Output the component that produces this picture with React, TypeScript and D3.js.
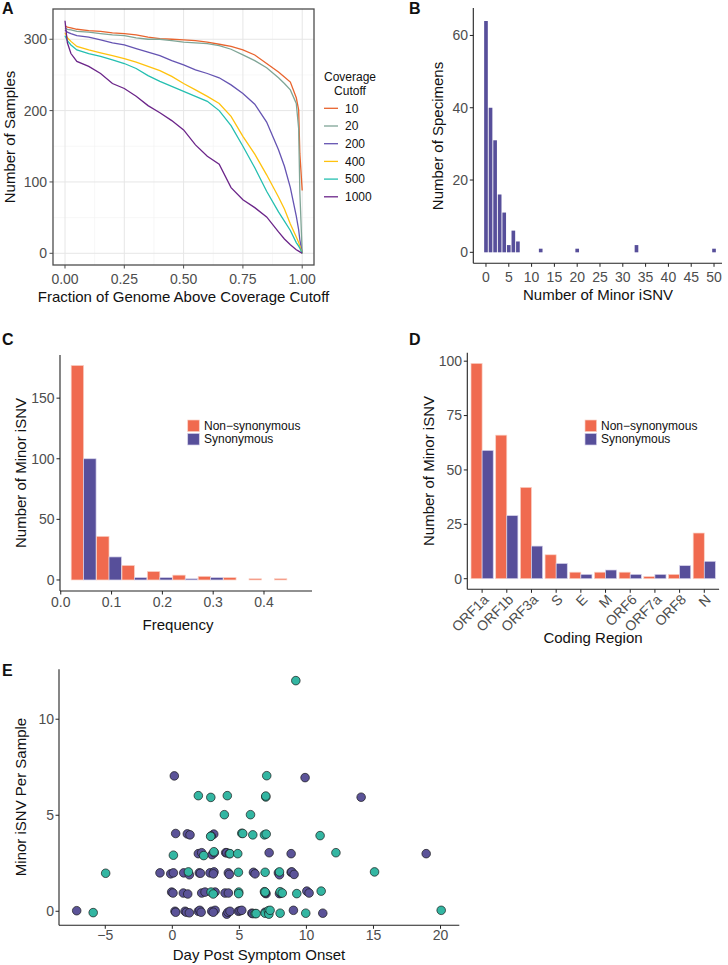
import React from 'react';
import * as d3 from 'd3';

const FONT = "'Liberation Sans', Arial, Helvetica, sans-serif";
const TICK_COLOR = '#4D4D4D';

// ---------- Panel A data ----------
const coverageFractions = [0, 0.01, 0.025, 0.05, 0.1, 0.15, 0.2, 0.25, 0.3, 0.35, 0.4, 0.45, 0.5, 0.55, 0.6, 0.65, 0.7, 0.75, 0.8, 0.85, 0.9, 0.925, 0.95, 0.975, 0.985, 0.99, 1.0];
const cutoffLabels = ['10', '20', '200', '400', '500', '1000'];
const samplesCut10 = [319, 317, 316, 314, 312, 311, 309, 308, 306, 303, 301, 300, 299, 298, 296, 293, 290, 285, 278, 266, 254, 247, 240, 218, 201, 140, 88];
const samplesCut20 = [316, 314, 313, 311, 310, 308, 306, 305, 302, 300, 300, 298, 296, 295, 294, 291, 286, 278, 270, 260, 246, 238, 229, 210, 175, 86, 0];
const samplesCut200 = [313, 310, 308, 305, 303, 299, 295, 292, 287, 282, 277, 270, 264, 257, 252, 246, 236, 224, 209, 184, 145, 122, 92, 52, 33, 19, 0];
const samplesCut400 = [309, 302, 297, 290, 285, 281, 277, 273, 268, 262, 256, 248, 238, 229, 220, 210, 192, 164, 139, 110, 79, 62, 41, 23, 15, 10, 0];
const samplesCut500 = [305, 298, 292, 285, 280, 276, 271, 266, 259, 249, 241, 234, 227, 220, 213, 200, 179, 150, 120, 87, 58, 45, 32, 15, 10, 7, 0];
const samplesCut1000 = [326, 295, 280, 269, 262, 252, 238, 231, 220, 207, 197, 186, 173, 152, 136, 125, 92, 75, 64, 51, 30, 20, 12, 5, 3, 2, 0];
const cutoffColors = ['#E8642E', '#7FA596', '#6554B2', '#FFC20E', '#25BFB0', '#6B2589'];
const aXTicks = [0, 0.25, 0.5, 0.75, 1.0];
const aYTicks = [0, 100, 200, 300];

// ---------- Panel B data ----------
const minorIsnvCounts = [0, 1, 2, 3, 4, 5, 6, 7, 12, 20, 33, 50];
const specimenCounts = [64, 40, 31, 16, 11, 2, 6, 3, 1, 1, 2, 1];
const bXTicks = [0, 5, 10, 15, 20, 25, 30, 35, 40, 45, 50];
const bYTicks = [0, 20, 40, 60];

// ---------- Panel C data ----------
const freqBinCenters = [0.045, 0.095, 0.145, 0.195, 0.245, 0.295, 0.345, 0.395, 0.445];
const freqNonSyn = [177, 36, 12, 7, 4, 3, 2, 1, 1];
const freqSyn = [100, 19, 2, 2, 1, 2, 0, 0, 0];
const cXTicks = [0, 0.1, 0.2, 0.3, 0.4];
const cYTicks = [0, 50, 100, 150];

// ---------- Panel D data ----------
const codingRegions = ['ORF1a', 'ORF1b', 'ORF3a', 'S', 'E', 'M', 'ORF6', 'ORF7a', 'ORF8', 'N'];
const regionNonSyn = [99, 66, 42, 11, 3, 3, 3, 1, 2, 21];
const regionSyn = [59, 29, 15, 7, 2, 4, 2, 2, 6, 8];
const dYTicks = [0, 25, 50, 75, 100];

// ---------- Panel E data ----------
const purpleDays = [-7.13, 0.2, 0.25, 0.95, 1.05, 1.27, 1.94, 2.05, 2.15, 2.94, 3.19, 3.05, 4.06, 4.15, 4.3, 4.93, 5.05, 5.18, 5.93, 6.0, 6.92, 9.03, 11.22,
  -0.05, 0.05, 0.82, 1.15, 2.19, 2.44, 3.19, 3.93, 4.18, 6.99, 7.99, 8.1, 10.03, 10.2, 6.92,
  -0.92, -0.12, 0.08, 0.85, 1.27, 2.01, 2.1, 2.81, 3.11, 3.06, 4.18, 4.25, 6.05, 6.17, 7.91, 7.99, 8.86, 8.91, 9.08,
  1.94, 2.19, 2.96, 3.13, 3.98, 4.06, 4.25, 7.22, 8.86, 18.93,
  0.25, 1.12, 1.32, 3.09, 2.9,
  14.08, 0.15, 9.9];
const purpleCounts = [0.03, 0.0, -0.05, 0.0, -0.05, -0.08, 0.0, 0.05, -0.05, 0.0, 0.05, -0.05, -0.15, -0.05, 0.0, 0.0, 0.03, 0.05, -0.1, -0.12, -0.05, 0.05, -0.1,
  1.0, 0.95, 0.95, 0.9, 0.95, 1.0, 1.0, 0.95, 0.95, 0.92, 0.92, 0.95, 1.05, 0.95, 0.95,
  2.0, 1.95, 2.0, 2.0, 1.9, 2.0, 1.98, 2.0, 2.05, 1.95, 2.0, 1.92, 2.03, 1.95, 2.0, 1.9, 2.03, 2.05, 1.92,
  3.0, 3.05, 2.95, 3.05, 3.05, 3.05, 3.0, 3.05, 3.0, 3.0,
  4.05, 4.03, 3.98, 4.02, 3.92,
  5.94, 7.05, 6.96];
const tealDays = [-5.9, 6.17, 6.25, 6.92, 7.16, 7.2, 7.29, 8.04, 9.95, 20.05,
  2.89, 3.05, 4.95, 4.95, 6.87, 6.92, 8.04, 8.2, 9.28, 11.1,
  -4.97, 1.2, 4.93, 6.92, 7.99, 15.08,
  0.08, 2.34, 3.1, 4.3, 4.88, 12.2,
  2.86, 5.18, 5.25, 6.0, 6.87, 7.0, 11.02,
  3.88, 5.83,
  1.94, 2.87, 4.1, 6.97, 6.97,
  7.04, 9.21];
const tealCounts = [-0.07, -0.12, -0.12, -0.1, 0.03, -0.15, 0.05, -0.1, -0.1, 0.05,
  1.0, 0.9, 1.0, 0.92, 1.02, 1.0, 1.02, 0.95, 0.92, 1.05,
  1.98, 2.05, 2.03, 2.03, 2.05, 2.05,
  2.92, 2.9, 3.1, 3.0, 3.0, 3.05,
  3.9, 4.06, 4.05, 3.98, 3.98, 4.02, 3.94,
  5.03, 5.03,
  6.02, 5.93, 6.02, 5.95, 6.0,
  7.06, 12.01];
const eXTicks = [-5, 0, 5, 10, 15, 20];
const eYTicks = [0, 5, 10];

const ORANGE = '#F06A4F';
const BLUE = '#574F9A';
const ORANGE_EDGE = '#FAD2C6';
const BLUE_EDGE = '#D6D2EA';
const PURPLE_PT = '#5B5398';
const TEAL_PT = '#33B6A2';

function fmt2(v: number) {
  return v.toFixed(2);
}

export default function App() {
  // ----- A -----
  const aX = d3.scaleLinear().domain([-0.0506, 1.0497]).range([53, 314]);
  const aY = d3.scaleLinear().domain([-16.4, 342.4]).range([265, 9]);
  const aLine = d3
    .line<number>()
    .x((_, i) => aX(coverageFractions[i]))
    .y((d) => aY(d))
    .curve(d3.curveLinear);
  const aSeries = [samplesCut10, samplesCut20, samplesCut200, samplesCut400, samplesCut500, samplesCut1000];
  const aXMinor = [0.125, 0.375, 0.625, 0.875];
  const aYMinor = [50, 150, 250];

  // ----- B -----
  const bX = d3.scaleLinear().domain([-2.78, 51.75]).range([473.3, 722]);
  const bY = d3.scaleLinear().domain([-3.04, 67.6]).range([263.3, 8]);
  const bBarW = 0.8;

  // ----- C -----
  const cX = d3.scaleLinear().domain([-0.0015, 0.4945]).range([60, 312]);
  const cY = d3.scaleLinear().domain([-9.1, 185.6]).range([591, 355]);
  const cHalf = 0.0245;

  // ----- D -----
  const dX = d3.scaleBand<string>().domain(codingRegions).range([467.3, 719.1]).paddingInner(0).paddingOuter(0.1);
  const dY = d3.scaleLinear().domain([-4.87, 103.9]).range([589.3, 352.7]);
  const dStep = dX.step();
  const dBarW = dStep * 0.45;

  // ----- E -----
  const eX = d3.scaleLinear().domain([-8.45, 21.4]).range([59, 459.3]);
  const eY = d3.scaleLinear().domain([-0.73, 12.6]).range([925.3, 669.3]);

  const tickStyle = { fontFamily: FONT, fontSize: 14, fill: TICK_COLOR } as const;
  const titleStyle = { fontFamily: FONT, fontSize: 15, fill: '#111' } as const;
  const letterStyle = { fontFamily: FONT, fontSize: 16, fontWeight: 700, fill: '#111' } as const;
  const legendStyle = { fontFamily: FONT, fontSize: 12, fill: '#111' } as const;
  const axisColor = '#222';

  return (
    <svg width={728} height={965} style={{ position: 'absolute', left: 0, top: 0, background: '#fff' }}>
      <rect x={0} y={0} width={728} height={965} fill="#fff" />

      {/* ================= Panel A ================= */}
      <text x={2} y={14} {...letterStyle}>A</text>
      <rect x={53} y={9} width={261} height={256} fill="#fff" />
      {aXMinor.map((v) => (
        <line key={'axm' + v} x1={aX(v)} x2={aX(v)} y1={9} y2={265} stroke="#F2F2F2" strokeWidth={0.6} />
      ))}
      {aYMinor.map((v) => (
        <line key={'aym' + v} x1={53} x2={314} y1={aY(v)} y2={aY(v)} stroke="#F2F2F2" strokeWidth={0.6} />
      ))}
      {aXTicks.map((v) => (
        <line key={'axg' + v} x1={aX(v)} x2={aX(v)} y1={9} y2={265} stroke="#E6E6E6" strokeWidth={1} />
      ))}
      {aYTicks.map((v) => (
        <line key={'ayg' + v} x1={53} x2={314} y1={aY(v)} y2={aY(v)} stroke="#E6E6E6" strokeWidth={1} />
      ))}
      {aSeries.map((s, i) => (
        <path key={'as' + i} d={aLine(s) || ''} fill="none" stroke={cutoffColors[i]} strokeWidth={1.3} strokeLinejoin="miter" />
      ))}
      <rect x={53} y={9} width={261} height={256} fill="none" stroke="#4D4D4D" strokeWidth={1.3} />
      {aYTicks.map((v) => (
        <g key={'ayt' + v}>
          <line x1={49.5} x2={53} y1={aY(v)} y2={aY(v)} stroke="#4D4D4D" strokeWidth={1} />
          <text x={47} y={aY(v)} dy="0.35em" textAnchor="end" {...tickStyle}>{v}</text>
        </g>
      ))}
      {aXTicks.map((v) => (
        <g key={'axt' + v}>
          <line x1={aX(v)} x2={aX(v)} y1={265} y2={268.5} stroke="#4D4D4D" strokeWidth={1} />
          <text x={aX(v)} y={284} textAnchor="middle" {...tickStyle}>{fmt2(v)}</text>
        </g>
      ))}
      <text x={183.5} y={302} textAnchor="middle" {...titleStyle}>Fraction of Genome Above Coverage Cutoff</text>
      <text transform={`translate(15,137) rotate(-90)`} textAnchor="middle" {...titleStyle}>Number of Samples</text>
      {/* legend A */}
      <text x={350} y={81} textAnchor="middle" {...legendStyle}>Coverage</text>
      <text x={350} y={95} textAnchor="middle" {...legendStyle}>Cutoff</text>
      {cutoffLabels.map((lab, i) => {
        const yy = 108.3 + i * 17.7;
        return (
          <g key={'al' + lab}>
            <line x1={324} x2={338} y1={yy} y2={yy} stroke={cutoffColors[i]} strokeWidth={1.3} />
            <text x={345} y={yy} dy="0.35em" {...legendStyle}>{lab}</text>
          </g>
        );
      })}

      {/* ================= Panel B ================= */}
      <text x={409} y={14} {...letterStyle}>B</text>
      {minorIsnvCounts.map((c, i) => (
        <rect
          key={'bb' + c}
          x={bX(c - bBarW / 2)}
          y={bY(specimenCounts[i])}
          width={bX(c + bBarW / 2) - bX(c - bBarW / 2)}
          height={bY(0) - bY(specimenCounts[i])}
          fill={BLUE}
        />
      ))}
      <line x1={473.3} x2={473.3} y1={8} y2={263.3} stroke={axisColor} strokeWidth={1.1} />
      <line x1={473.3} x2={722} y1={263.3} y2={263.3} stroke={axisColor} strokeWidth={1.1} />
      {bYTicks.map((v) => (
        <g key={'byt' + v}>
          <line x1={469.8} x2={473.3} y1={bY(v)} y2={bY(v)} stroke={axisColor} strokeWidth={1} />
          <text x={468} y={bY(v)} dy="0.35em" textAnchor="end" {...tickStyle}>{v}</text>
        </g>
      ))}
      {bXTicks.map((v) => (
        <g key={'bxt' + v}>
          <line x1={bX(v)} x2={bX(v)} y1={263.3} y2={266.8} stroke={axisColor} strokeWidth={1} />
          <text x={bX(v)} y={282} textAnchor="middle" {...tickStyle}>{v}</text>
        </g>
      ))}
      <text x={598} y={300} textAnchor="middle" {...titleStyle}>Number of Minor iSNV</text>
      <text transform={`translate(443,136) rotate(-90)`} textAnchor="middle" {...titleStyle}>Number of Specimens</text>

      {/* ================= Panel C ================= */}
      <text x={2} y={345} {...letterStyle}>C</text>
      {freqBinCenters.map((c, i) => (
        <g key={'cb' + i}>
          <rect
            x={cX(c - cHalf)}
            y={cY(freqNonSyn[i])}
            width={cX(c) - cX(c - cHalf)}
            height={cY(0) - cY(freqNonSyn[i])}
            fill={ORANGE}
            stroke={ORANGE_EDGE}
            strokeWidth={0.7}
          />
          <rect
            x={cX(c)}
            y={cY(freqSyn[i])}
            width={cX(c + cHalf) - cX(c)}
            height={cY(0) - cY(freqSyn[i])}
            fill={BLUE}
            stroke={BLUE_EDGE}
            strokeWidth={0.7}
          />
        </g>
      ))}
      <line x1={60} x2={60} y1={355} y2={591} stroke={axisColor} strokeWidth={1.1} />
      <line x1={60} x2={312} y1={591} y2={591} stroke={axisColor} strokeWidth={1.1} />
      {cYTicks.map((v) => (
        <g key={'cyt' + v}>
          <line x1={56.5} x2={60} y1={cY(v)} y2={cY(v)} stroke={axisColor} strokeWidth={1} />
          <text x={54.5} y={cY(v)} dy="0.35em" textAnchor="end" {...tickStyle}>{v}</text>
        </g>
      ))}
      {cXTicks.map((v) => (
        <g key={'cxt' + v}>
          <line x1={cX(v)} x2={cX(v)} y1={591} y2={594.5} stroke={axisColor} strokeWidth={1} />
          <text x={cX(v)} y={607} textAnchor="middle" {...tickStyle}>{v.toFixed(1)}</text>
        </g>
      ))}
      <text x={178} y={630} textAnchor="middle" {...titleStyle}>Frequency</text>
      <text transform={`translate(26,473) rotate(-90)`} textAnchor="middle" {...titleStyle}>Number of Minor iSNV</text>
      {/* legend C */}
      <rect x={187.7} y={420} width={11.6} height={11.6} fill={ORANGE} stroke={ORANGE_EDGE} strokeWidth={0.7} />
      <rect x={187.7} y={433.4} width={11.6} height={11.6} fill={BLUE} stroke={BLUE_EDGE} strokeWidth={0.7} />
      <text x={204} y={425.8} dy="0.35em" {...legendStyle}>Non−synonymous</text>
      <text x={204} y={439.2} dy="0.35em" {...legendStyle}>Synonymous</text>

      {/* ================= Panel D ================= */}
      <text x={409} y={345} {...letterStyle}>D</text>
      {codingRegions.map((r, i) => {
        const cx = (dX(r) as number) + dStep / 2;
        return (
          <g key={'db' + r}>
            <rect
              x={cx - dBarW}
              y={dY(regionNonSyn[i])}
              width={dBarW}
              height={dY(0) - dY(regionNonSyn[i])}
              fill={ORANGE}
              stroke={ORANGE_EDGE}
              strokeWidth={0.7}
            />
            <rect
              x={cx}
              y={dY(regionSyn[i])}
              width={dBarW}
              height={dY(0) - dY(regionSyn[i])}
              fill={BLUE}
              stroke={BLUE_EDGE}
              strokeWidth={0.7}
            />
          </g>
        );
      })}
      <line x1={467.3} x2={467.3} y1={352.7} y2={589.3} stroke={axisColor} strokeWidth={1.1} />
      <line x1={467.3} x2={719.1} y1={589.3} y2={589.3} stroke={axisColor} strokeWidth={1.1} />
      {dYTicks.map((v) => (
        <g key={'dyt' + v}>
          <line x1={463.8} x2={467.3} y1={dY(v)} y2={dY(v)} stroke={axisColor} strokeWidth={1} />
          <text x={462} y={dY(v)} dy="0.35em" textAnchor="end" {...tickStyle}>{v}</text>
        </g>
      ))}
      {codingRegions.map((r) => {
        const cx = (dX(r) as number) + dStep / 2;
        return (
          <g key={'dxt' + r}>
            <line x1={cx} x2={cx} y1={589.3} y2={592.8} stroke={axisColor} strokeWidth={1} />
            <text transform={`translate(${cx + 4},${597}) rotate(-45)`} textAnchor="end" dy="0.35em" {...tickStyle}>{r}</text>
          </g>
        );
      })}
      <text x={593} y={643} textAnchor="middle" {...titleStyle}>Coding Region</text>
      <text transform={`translate(434,471) rotate(-90)`} textAnchor="middle" {...titleStyle}>Number of Minor iSNV</text>
      {/* legend D */}
      <rect x={585} y={420} width={11.6} height={11.6} fill={ORANGE} stroke={ORANGE_EDGE} strokeWidth={0.7} />
      <rect x={585} y={433.4} width={11.6} height={11.6} fill={BLUE} stroke={BLUE_EDGE} strokeWidth={0.7} />
      <text x={601} y={425.8} dy="0.35em" {...legendStyle}>Non−synonymous</text>
      <text x={601} y={439.2} dy="0.35em" {...legendStyle}>Synonymous</text>

      {/* ================= Panel E ================= */}
      <text x={2} y={676} {...letterStyle}>E</text>
      {purpleDays.map((d, i) => (
        <circle key={'ep' + i} cx={eX(d)} cy={eY(purpleCounts[i])} r={4.3} fill={PURPLE_PT} stroke="#1a1a1a" strokeWidth={0.7} />
      ))}
      {tealDays.map((d, i) => (
        <circle key={'et' + i} cx={eX(d)} cy={eY(tealCounts[i])} r={4.3} fill={TEAL_PT} stroke="#1a1a1a" strokeWidth={0.7} />
      ))}
      <line x1={59} x2={59} y1={669.3} y2={925.3} stroke={axisColor} strokeWidth={1.1} />
      <line x1={59} x2={459.3} y1={925.3} y2={925.3} stroke={axisColor} strokeWidth={1.1} />
      {eYTicks.map((v) => (
        <g key={'eyt' + v}>
          <line x1={55.5} x2={59} y1={eY(v)} y2={eY(v)} stroke={axisColor} strokeWidth={1} />
          <text x={54} y={eY(v)} dy="0.35em" textAnchor="end" {...tickStyle}>{v}</text>
        </g>
      ))}
      {eXTicks.map((v) => (
        <g key={'ext' + v}>
          <line x1={eX(v)} x2={eX(v)} y1={925.3} y2={928.8} stroke={axisColor} strokeWidth={1} />
          <text x={eX(v)} y={940} textAnchor="middle" {...tickStyle}>{v < 0 ? '\u2212' + Math.abs(v) : v}</text>
        </g>
      ))}
      <text x={259} y={960} textAnchor="middle" {...titleStyle}>Day Post Symptom Onset</text>
      <text transform={`translate(26,797) rotate(-90)`} textAnchor="middle" {...titleStyle}>Minor iSNV Per Sample</text>
    </svg>
  );
}
